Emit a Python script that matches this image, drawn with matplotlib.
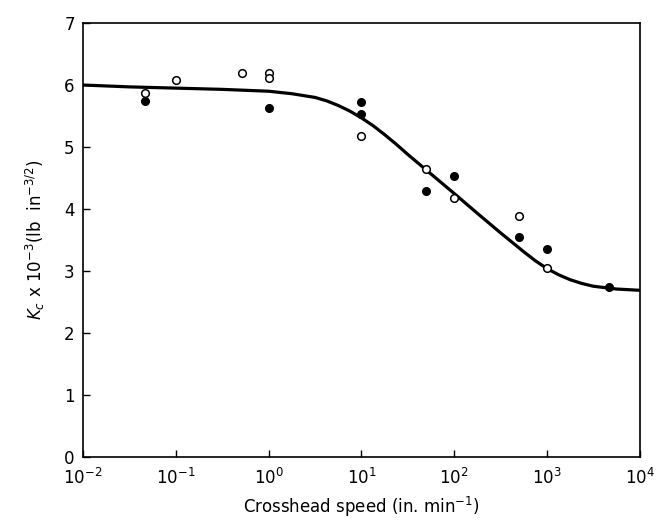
import matplotlib
matplotlib.use("Agg")
import matplotlib.pyplot as plt
import numpy as np

# Data
open_x = [0.047, 0.1, 0.52, 1.0, 1.0, 10, 50, 100, 500, 1000]
open_y = [5.87, 6.08, 6.19, 6.19, 6.11, 5.18, 4.65, 4.18, 3.89, 3.05]
filled_x = [0.047, 1.0, 10, 10, 50, 100, 500, 1000, 4700]
filled_y = [5.74, 5.63, 5.73, 5.53, 4.29, 4.53, 3.55, 3.35, 2.74]

# smooth fitted curve
curve_logx = [-2.0, -1.5, -1.0, -0.5, 0.0, 0.25, 0.5, 0.625, 0.75, 0.875, 1.0, 1.125,
              1.25, 1.375, 1.5, 1.75, 2.0, 2.25, 2.5, 2.75, 2.875, 3.0, 3.125,
              3.25, 3.375, 3.5, 3.75, 4.0]
curve_y = [6.00, 5.97, 5.95, 5.93, 5.90, 5.86, 5.80, 5.745, 5.67, 5.58, 5.47, 5.345,
           5.20, 5.045, 4.88, 4.565, 4.25, 3.93, 3.615, 3.31, 3.165, 3.04, 2.94,
           2.86, 2.80, 2.755, 2.71, 2.69]

xticks = [1e-2, 1e-1, 1e0, 1e1, 1e2, 1e3, 1e4]
xticklabels = [r"10$^{-2}$", r"10$^{-1}$", r"10$^{0}$", r"10$^{1}$",
               r"10$^{2}$", r"10$^{3}$", r"10$^{4}$"]
yticks = [0, 1, 2, 3, 4, 5, 6, 7]

plt.rcParams['font.family'] = ['DejaVu Sans']
plt.rcParams['mathtext.fontset'] = 'dejavusans'

fig = plt.figure(figsize=(6.61, 5.23), dpi=100)
ax = fig.add_axes([0.1256, 0.126, 0.968 - 0.1256, 0.956 - 0.126])

curve_x = np.power(10.0, curve_logx)
ax.plot(curve_x, curve_y, color='black', lw=2.3, solid_joinstyle='round', zorder=2)
ax.plot(filled_x, filled_y, 'o', ms=5.5, mfc='black', mec='black', mew=1.0, zorder=3)
ax.plot(open_x, open_y, 'o', ms=5.5, mfc='white', mec='black', mew=1.1, zorder=3)

ax.set_xscale('log')
ax.set_xlim(1e-2, 1e4)
ax.set_ylim(0, 7)
ax.set_xticks(xticks)
ax.set_xticklabels(xticklabels)
ax.minorticks_off()
ax.set_yticks(yticks)
ax.tick_params(direction='in', length=5, width=1.0, labelsize=12, top=False, right=False)
ax.tick_params(axis='x', pad=8)
ax.tick_params(axis='y', pad=6)
for s in ax.spines.values():
    s.set_linewidth(1.2)

ax.set_xlabel("Crosshead speed (in. min$^{-1}$)", fontsize=12, labelpad=5)
ax.set_ylabel(r"$K_c$ x 10$^{-3}$(lb  in$^{-3/2}$)", fontsize=12, labelpad=12)

fig.savefig("out.png", dpi=100)
